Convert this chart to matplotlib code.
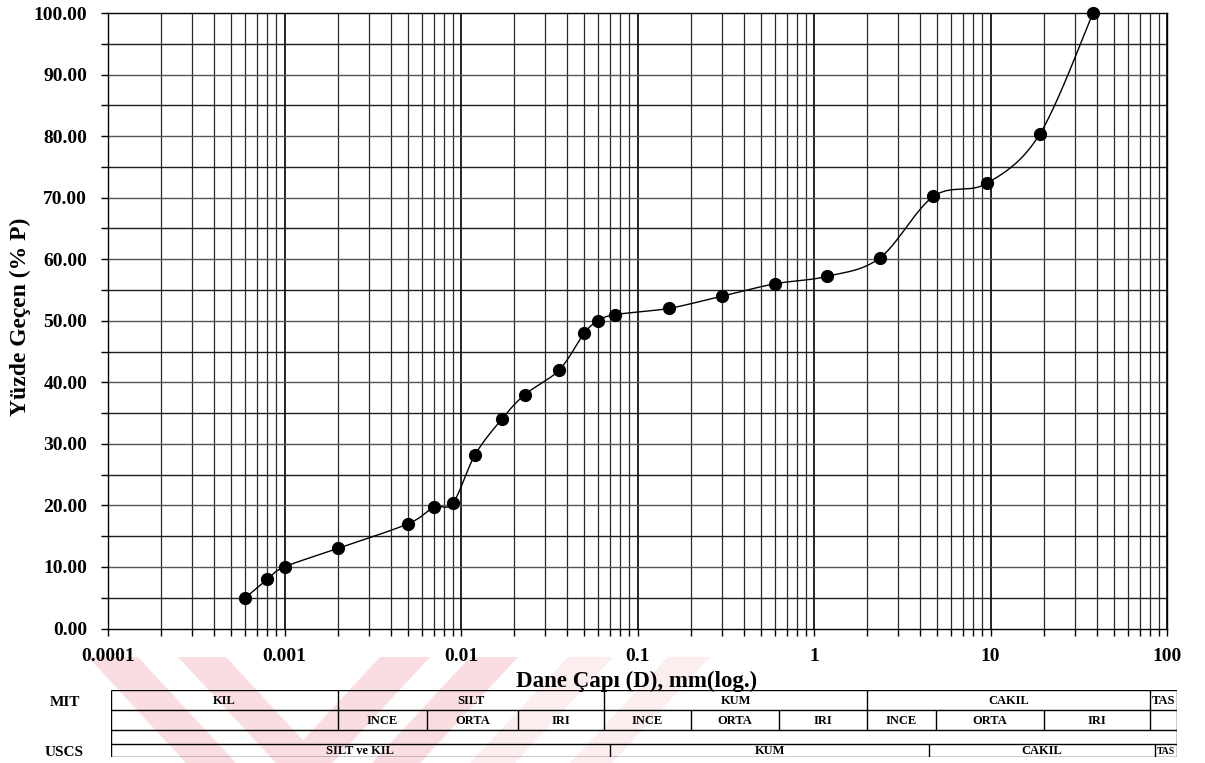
import numpy as np
import matplotlib
matplotlib.use("Agg")
import matplotlib.pyplot as plt
from matplotlib.patches import Polygon

# --- grain size distribution (hydrometer + sieve) ---
grain_mm = [0.0006, 0.0008, 0.001, 0.002, 0.005, 0.007, 0.009, 0.012, 0.017,
            0.023, 0.036, 0.05, 0.06, 0.075, 0.15, 0.3, 0.6, 1.18, 2.36,
            4.75, 9.5, 19.0, 38.1]
passing_pct = [5.0, 8.0, 10.0, 13.0, 17.0, 19.7, 20.4, 28.2, 34.0,
               38.0, 42.0, 48.0, 50.0, 51.0, 52.0, 54.0, 56.0, 57.2, 60.2,
               70.2, 72.3, 80.3, 100.0]

x_ticks = [0.0001, 0.001, 0.01, 0.1, 1, 10, 100]
x_tick_labels = ["0.0001", "0.001", "0.01", "0.1", "1", "10", "100"]
y_ticks = [0, 10, 20, 30, 40, 50, 60, 70, 80, 90, 100]

# --- soil classification bands ---
mit_main_edges = [0.002, 0.065, 2.0, 80.0]
mit_main_names = ["KIL", "SILT", "KUM", "CAKIL", "TAS"]
mit_sub_edges = [0.0064, 0.021, 0.2, 0.63, 4.9, 20.0]
mit_sub_names = [("INCE", 0.002, 0.0064), ("ORTA", 0.0064, 0.021), ("IRI", 0.021, 0.065),
                 ("INCE", 0.065, 0.2), ("ORTA", 0.2, 0.63), ("IRI", 0.63, 2.0),
                 ("INCE", 2.0, 4.9), ("ORTA", 4.9, 20.0), ("IRI", 20.0, 80.0)]
uscs_edges = [0.07, 4.5, 85.0]
uscs_names = ["SILT ve KIL", "KUM", "CAKIL", "TAS"]

W, H = 1205, 763
fig = plt.figure(figsize=(W / 100, H / 100), dpi=100)
fig.patch.set_facecolor("white")

def fx(px):
    return px / W

def fy(py):
    return 1 - py / H

SERIF = "Liberation Serif"

# --- faint diagonal watermark bands at the foot of the page ---
strong = "#f9dde0"
light = "#fcedef"
bands = [
    ([(88, 657), (138, 657), (236, 763), (186, 763)], strong),
    ([(178, 657), (226, 657), (324, 763), (276, 763)], strong),
    ([(282, 763), (332, 763), (430, 657), (380, 657)], strong),
    ([(372, 763), (420, 763), (518, 657), (470, 657)], strong),
    ([(470, 763), (515, 763), (613, 657), (568, 657)], light),
    ([(570, 763), (612, 763), (710, 657), (668, 657)], light),
]
for pts, col in bands:
    fig.patches.append(Polygon([(fx(a), fy(b)) for a, b in pts], closed=True,
                               transform=fig.transFigure, facecolor=col,
                               edgecolor="none", zorder=-5))

# --- main semi-log chart ---
ax = fig.add_axes([fx(108), fy(628.5), fx(1167 - 108), (628.5 - 13) / H])
ax.set_facecolor("none")
ax.set_xscale("log")
ax.set_xlim(1e-4, 100)
ax.set_ylim(0, 100)

# log paper grid
minor_x = [m * 10.0 ** e for e in range(-4, 2) for m in range(2, 10)]
for xv in minor_x:
    ax.axvline(xv, color="#2a2a2a", lw=0.9, zorder=1)
for xv in x_ticks:
    ax.axvline(xv, color="black", lw=1.2, zorder=1)
for yv in range(5, 100, 5):
    col = "#555555" if yv % 10 == 0 else "#1e1e1e"
    ax.axhline(yv, color=col, lw=1.0, zorder=1)

ax.set_xticks(x_ticks)
ax.set_xticklabels(x_tick_labels)
ax.set_xticks(minor_x, minor=True)
ax.set_yticks(y_ticks)
ax.set_yticklabels([f"{v:.2f}" for v in y_ticks])
ax.set_yticks(list(range(5, 100, 10)), minor=True)
ax.tick_params(axis="both", which="both", direction="out", length=5, width=1,
               color="black")
ax.tick_params(axis="x", which="major", pad=9)
ax.tick_params(axis="y", which="major", pad=10)
for lab in ax.get_xticklabels() + ax.get_yticklabels():
    lab.set_fontfamily(SERIF)
    lab.set_fontweight("bold")
    lab.set_fontsize(14)
for sp in ax.spines.values():
    sp.set_color("black")
    sp.set_linewidth(1.0)

# smoothed curve computed in screen space through the measured points
pts = ax.transData.transform(np.column_stack([grain_mm, passing_pct]))
segs = []
t = np.linspace(0, 1, 40)[:, None]
for i in range(len(pts) - 1):
    p0 = pts[i - 1] if i > 0 else pts[i]
    p1, p2 = pts[i], pts[i + 1]
    p3 = pts[i + 2] if i + 2 < len(pts) else pts[i + 1]
    c1 = p1 + (p2 - p0) / 6.0
    c2 = p2 - (p3 - p1) / 6.0
    seg = ((1 - t) ** 3) * p1 + 3 * ((1 - t) ** 2) * t * c1 \
        + 3 * (1 - t) * t ** 2 * c2 + t ** 3 * p2
    segs.append(seg if i == 0 else seg[1:])
curve = ax.transData.inverted().transform(np.vstack(segs))
ax.plot(curve[:, 0], curve[:, 1], color="black", lw=1.0, zorder=3, clip_on=False)
ax.plot(grain_mm, passing_pct, linestyle="none", marker="o", markersize=8.5,
        color="black", zorder=4, clip_on=False)

fig.text(fx(20), fy(317), "Yüzde Geçen (% P)", rotation=90, ha="center",
         va="center", fontsize=17, fontweight="bold", family=SERIF)
fig.text(fx(637), fy(681), "Dane Çapı (D), mm(log.)", ha="center", va="center",
         fontsize=16.5, fontweight="bold", family=SERIF)

# --- classification table below the chart ---
tl, tr = 110.7, 1176.7
log_l = np.log10(1e-4) + (tl - 108) / 176.5
log_r = np.log10(1e-4) + (tr - 108) / 176.5
tab = fig.add_axes([fx(tl), fy(757), fx(tr - tl), (757 - 690) / H])
tab.set_xscale("log")
tab.set_xlim(10 ** log_l, 10 ** log_r)
tab.set_ylim(757, 690)
tab.axis("off")
tab.patch.set_alpha(0)
xmin, xmax = tab.get_xlim()

lk = dict(color="black", lw=1.0, solid_capstyle="butt")
for yv in (690, 710, 730, 744, 757):
    tab.plot([xmin, xmax], [yv, yv], **lk)
tab.plot([xmin, xmin], [690, 757], **lk)
tab.plot([xmax, xmax], [690, 757], **lk)
for e in mit_main_edges:
    tab.plot([e, e], [690, 730], **lk)
for e in mit_sub_edges:
    tab.plot([e, e], [710, 730], **lk)
for e in uscs_edges:
    tab.plot([e, e], [744, 757], **lk)

def mid(a, b):
    return 10 ** ((np.log10(a) + np.log10(b)) / 2)

cell = dict(ha="center", va="center", fontsize=9, fontweight="bold", family=SERIF)
main_bounds = [xmin] + mit_main_edges + [xmax]
for name, a, b in zip(mit_main_names, main_bounds[:-1], main_bounds[1:]):
    tab.text(mid(a, b), 700.5, name, **cell)
for name, a, b in mit_sub_names:
    tab.text(mid(a, b), 720.5, name, **cell)
uscs_bounds = [xmin] + uscs_edges + [xmax]
for name, a, b in zip(uscs_names, uscs_bounds[:-1], uscs_bounds[1:]):
    kw = dict(cell)
    if name == "TAS":
        kw["fontsize"] = 7
    tab.text(mid(a, b), 751, name, **kw)

fig.text(fx(65), fy(702), "MIT", ha="center", va="center", fontsize=11,
         fontweight="bold", family=SERIF)
fig.text(fx(64), fy(752), "USCS", ha="center", va="center", fontsize=11,
         fontweight="bold", family=SERIF)

fig.savefig("out.png", dpi=100, facecolor="white")
